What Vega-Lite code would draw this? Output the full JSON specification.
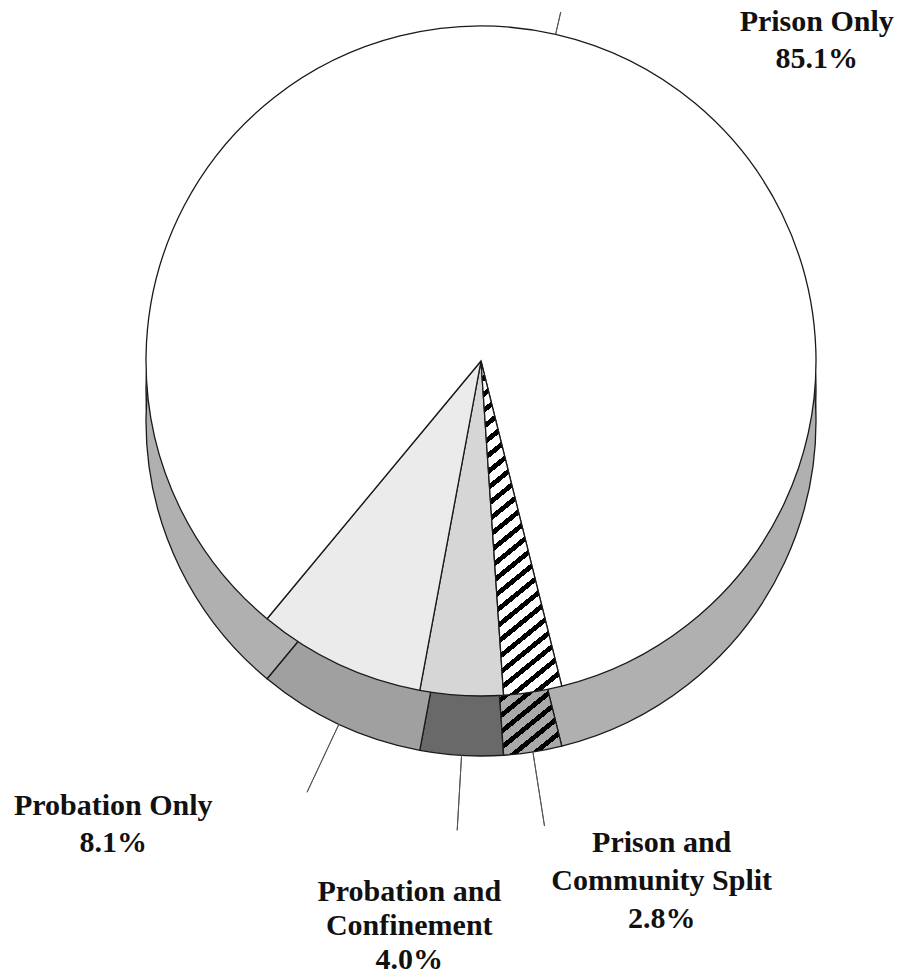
{
  "$schema": "https://vega.github.io/schema/vega-lite/v6.json",
  "width": 838,
  "height": 722,
  "padding": {"left": 62, "top": 0, "right": 0, "bottom": 258},
  "autosize": {"type": "none"},
  "background": "white",
  "config": {"view": {"stroke": null}},
  "data": {
    "values": [
      {"category": "Prison and Community Split", "label": "Prison and\nCommunity Split", "value": 2.8, "rank": 1},
      {"category": "Probation and Confinement", "label": "Probation and\nConfinement", "value": 4.0, "rank": 2},
      {"category": "Probation Only", "label": "Probation Only", "value": 8.1, "rank": 3},
      {"category": "Prison Only", "label": "Prison Only", "value": 85.1, "rank": 4}
    ]
  },
  "transform": [
    {"stack": "value", "groupby": [], "sort": [{"field": "rank", "order": "ascending"}], "as": ["v0", "v1"]},
    {"calculate": "(datum.v0 + datum.v1) / 2", "as": "mid"},
    {"calculate": "datum.label + '\\n' + format(datum.value, '.1f') + '%'", "as": "text"}
  ],
  "layer": [
    {
      "mark": {"type": "arc", "radius": 335, "yOffset": 30, "fill": "#ababab", "stroke": "#1a1a1a", "strokeWidth": 1.3},
      "encoding": {
        "theta": {"field": "v0", "type": "quantitative", "stack": null, "scale": {"domain": [0, 100], "range": [2.8981, 9.1813]}},
        "theta2": {"field": "v1"}
      }
    },
    {
      "transform": [{"filter": "datum.category !== 'Prison and Community Split'"}],
      "mark": {"type": "arc", "radius": 335, "yOffset": 60, "stroke": "#1a1a1a", "strokeWidth": 1.3},
      "encoding": {
        "theta": {"field": "v0", "type": "quantitative", "stack": null, "scale": {"domain": [0, 100], "range": [2.8981, 9.1813]}},
        "theta2": {"field": "v1"},
        "fill": {"condition": [
          {"test": "datum.category === 'Probation and Confinement'", "value": "#696969"},
          {"test": "datum.category === 'Probation Only'", "value": "#a0a0a0"}
        ], "value": "#b0b0b0"}
      }
    },
    {
      "transform": [{"filter": "datum.category === 'Prison and Community Split'"}],
      "mark": {"type": "arc", "radius": 335, "yOffset": 60, "stroke": "#1a1a1a", "strokeWidth": 1.3,
        "fill": {"gradient": "linear", "x1": 0, "y1": 0, "x2": 0.22, "y2": 1.12, "stops": [
          {"offset": 0, "color": "#000"}, {"offset": 0.0158, "color": "#000"}, {"offset": 0.0158, "color": "#a9a9a9"}, {"offset": 0.0417, "color": "#a9a9a9"},
          {"offset": 0.0417, "color": "#000"}, {"offset": 0.0575, "color": "#000"}, {"offset": 0.0575, "color": "#a9a9a9"}, {"offset": 0.0833, "color": "#a9a9a9"},
          {"offset": 0.0833, "color": "#000"}, {"offset": 0.0991, "color": "#000"}, {"offset": 0.0991, "color": "#a9a9a9"}, {"offset": 0.125, "color": "#a9a9a9"},
          {"offset": 0.125, "color": "#000"}, {"offset": 0.1408, "color": "#000"}, {"offset": 0.1408, "color": "#a9a9a9"}, {"offset": 0.1667, "color": "#a9a9a9"},
          {"offset": 0.1667, "color": "#000"}, {"offset": 0.1825, "color": "#000"}, {"offset": 0.1825, "color": "#a9a9a9"}, {"offset": 0.2083, "color": "#a9a9a9"},
          {"offset": 0.2083, "color": "#000"}, {"offset": 0.2241, "color": "#000"}, {"offset": 0.2241, "color": "#a9a9a9"}, {"offset": 0.25, "color": "#a9a9a9"},
          {"offset": 0.25, "color": "#000"}, {"offset": 0.2658, "color": "#000"}, {"offset": 0.2658, "color": "#a9a9a9"}, {"offset": 0.2917, "color": "#a9a9a9"},
          {"offset": 0.2917, "color": "#000"}, {"offset": 0.3075, "color": "#000"}, {"offset": 0.3075, "color": "#a9a9a9"}, {"offset": 0.3333, "color": "#a9a9a9"},
          {"offset": 0.3333, "color": "#000"}, {"offset": 0.3491, "color": "#000"}, {"offset": 0.3491, "color": "#a9a9a9"}, {"offset": 0.375, "color": "#a9a9a9"},
          {"offset": 0.375, "color": "#000"}, {"offset": 0.3908, "color": "#000"}, {"offset": 0.3908, "color": "#a9a9a9"}, {"offset": 0.4167, "color": "#a9a9a9"},
          {"offset": 0.4167, "color": "#000"}, {"offset": 0.4325, "color": "#000"}, {"offset": 0.4325, "color": "#a9a9a9"}, {"offset": 0.4583, "color": "#a9a9a9"},
          {"offset": 0.4583, "color": "#000"}, {"offset": 0.4741, "color": "#000"}, {"offset": 0.4741, "color": "#a9a9a9"}, {"offset": 0.5, "color": "#a9a9a9"},
          {"offset": 0.5, "color": "#000"}, {"offset": 0.5158, "color": "#000"}, {"offset": 0.5158, "color": "#a9a9a9"}, {"offset": 0.5417, "color": "#a9a9a9"},
          {"offset": 0.5417, "color": "#000"}, {"offset": 0.5575, "color": "#000"}, {"offset": 0.5575, "color": "#a9a9a9"}, {"offset": 0.5833, "color": "#a9a9a9"},
          {"offset": 0.5833, "color": "#000"}, {"offset": 0.5991, "color": "#000"}, {"offset": 0.5991, "color": "#a9a9a9"}, {"offset": 0.625, "color": "#a9a9a9"},
          {"offset": 0.625, "color": "#000"}, {"offset": 0.6408, "color": "#000"}, {"offset": 0.6408, "color": "#a9a9a9"}, {"offset": 0.6667, "color": "#a9a9a9"},
          {"offset": 0.6667, "color": "#000"}, {"offset": 0.6825, "color": "#000"}, {"offset": 0.6825, "color": "#a9a9a9"}, {"offset": 0.7083, "color": "#a9a9a9"},
          {"offset": 0.7083, "color": "#000"}, {"offset": 0.7241, "color": "#000"}, {"offset": 0.7241, "color": "#a9a9a9"}, {"offset": 0.75, "color": "#a9a9a9"},
          {"offset": 0.75, "color": "#000"}, {"offset": 0.7658, "color": "#000"}, {"offset": 0.7658, "color": "#a9a9a9"}, {"offset": 0.7917, "color": "#a9a9a9"},
          {"offset": 0.7917, "color": "#000"}, {"offset": 0.8075, "color": "#000"}, {"offset": 0.8075, "color": "#a9a9a9"}, {"offset": 0.8333, "color": "#a9a9a9"},
          {"offset": 0.8333, "color": "#000"}, {"offset": 0.8491, "color": "#000"}, {"offset": 0.8491, "color": "#a9a9a9"}, {"offset": 0.875, "color": "#a9a9a9"},
          {"offset": 0.875, "color": "#000"}, {"offset": 0.8908, "color": "#000"}, {"offset": 0.8908, "color": "#a9a9a9"}, {"offset": 0.9167, "color": "#a9a9a9"},
          {"offset": 0.9167, "color": "#000"}, {"offset": 0.9325, "color": "#000"}, {"offset": 0.9325, "color": "#a9a9a9"}, {"offset": 0.9583, "color": "#a9a9a9"},
          {"offset": 0.9583, "color": "#000"}, {"offset": 0.9741, "color": "#000"}, {"offset": 0.9741, "color": "#a9a9a9"}, {"offset": 1, "color": "#a9a9a9"}
        ]}},
      "encoding": {
        "theta": {"field": "v0", "type": "quantitative", "stack": null, "scale": {"domain": [0, 100], "range": [2.8981, 9.1813]}},
        "theta2": {"field": "v1"}
      }
    },
    {
      "transform": [{"filter": "datum.category !== 'Prison and Community Split'"}],
      "mark": {"type": "arc", "radius": 335, "stroke": "#1a1a1a", "strokeWidth": 1.3},
      "encoding": {
        "theta": {"field": "v0", "type": "quantitative", "stack": null, "scale": {"domain": [0, 100], "range": [2.8981, 9.1813]}},
        "theta2": {"field": "v1"},
        "fill": {"condition": [
          {"test": "datum.category === 'Probation and Confinement'", "value": "#d6d6d6"},
          {"test": "datum.category === 'Probation Only'", "value": "#ebebeb"}
        ], "value": "#ffffff"}
      }
    },
    {
      "transform": [{"filter": "datum.category === 'Prison and Community Split'"}],
      "mark": {"type": "arc", "radius": 335, "stroke": "#1a1a1a", "strokeWidth": 1.3,
        "fill": {"gradient": "linear", "x1": 0, "y1": 0, "x2": 0.22, "y2": 1.12, "stops": [
          {"offset": 0, "color": "#000"}, {"offset": 0.0158, "color": "#000"}, {"offset": 0.0158, "color": "#fff"}, {"offset": 0.0417, "color": "#fff"},
          {"offset": 0.0417, "color": "#000"}, {"offset": 0.0575, "color": "#000"}, {"offset": 0.0575, "color": "#fff"}, {"offset": 0.0833, "color": "#fff"},
          {"offset": 0.0833, "color": "#000"}, {"offset": 0.0991, "color": "#000"}, {"offset": 0.0991, "color": "#fff"}, {"offset": 0.125, "color": "#fff"},
          {"offset": 0.125, "color": "#000"}, {"offset": 0.1408, "color": "#000"}, {"offset": 0.1408, "color": "#fff"}, {"offset": 0.1667, "color": "#fff"},
          {"offset": 0.1667, "color": "#000"}, {"offset": 0.1825, "color": "#000"}, {"offset": 0.1825, "color": "#fff"}, {"offset": 0.2083, "color": "#fff"},
          {"offset": 0.2083, "color": "#000"}, {"offset": 0.2241, "color": "#000"}, {"offset": 0.2241, "color": "#fff"}, {"offset": 0.25, "color": "#fff"},
          {"offset": 0.25, "color": "#000"}, {"offset": 0.2658, "color": "#000"}, {"offset": 0.2658, "color": "#fff"}, {"offset": 0.2917, "color": "#fff"},
          {"offset": 0.2917, "color": "#000"}, {"offset": 0.3075, "color": "#000"}, {"offset": 0.3075, "color": "#fff"}, {"offset": 0.3333, "color": "#fff"},
          {"offset": 0.3333, "color": "#000"}, {"offset": 0.3491, "color": "#000"}, {"offset": 0.3491, "color": "#fff"}, {"offset": 0.375, "color": "#fff"},
          {"offset": 0.375, "color": "#000"}, {"offset": 0.3908, "color": "#000"}, {"offset": 0.3908, "color": "#fff"}, {"offset": 0.4167, "color": "#fff"},
          {"offset": 0.4167, "color": "#000"}, {"offset": 0.4325, "color": "#000"}, {"offset": 0.4325, "color": "#fff"}, {"offset": 0.4583, "color": "#fff"},
          {"offset": 0.4583, "color": "#000"}, {"offset": 0.4741, "color": "#000"}, {"offset": 0.4741, "color": "#fff"}, {"offset": 0.5, "color": "#fff"},
          {"offset": 0.5, "color": "#000"}, {"offset": 0.5158, "color": "#000"}, {"offset": 0.5158, "color": "#fff"}, {"offset": 0.5417, "color": "#fff"},
          {"offset": 0.5417, "color": "#000"}, {"offset": 0.5575, "color": "#000"}, {"offset": 0.5575, "color": "#fff"}, {"offset": 0.5833, "color": "#fff"},
          {"offset": 0.5833, "color": "#000"}, {"offset": 0.5991, "color": "#000"}, {"offset": 0.5991, "color": "#fff"}, {"offset": 0.625, "color": "#fff"},
          {"offset": 0.625, "color": "#000"}, {"offset": 0.6408, "color": "#000"}, {"offset": 0.6408, "color": "#fff"}, {"offset": 0.6667, "color": "#fff"},
          {"offset": 0.6667, "color": "#000"}, {"offset": 0.6825, "color": "#000"}, {"offset": 0.6825, "color": "#fff"}, {"offset": 0.7083, "color": "#fff"},
          {"offset": 0.7083, "color": "#000"}, {"offset": 0.7241, "color": "#000"}, {"offset": 0.7241, "color": "#fff"}, {"offset": 0.75, "color": "#fff"},
          {"offset": 0.75, "color": "#000"}, {"offset": 0.7658, "color": "#000"}, {"offset": 0.7658, "color": "#fff"}, {"offset": 0.7917, "color": "#fff"},
          {"offset": 0.7917, "color": "#000"}, {"offset": 0.8075, "color": "#000"}, {"offset": 0.8075, "color": "#fff"}, {"offset": 0.8333, "color": "#fff"},
          {"offset": 0.8333, "color": "#000"}, {"offset": 0.8491, "color": "#000"}, {"offset": 0.8491, "color": "#fff"}, {"offset": 0.875, "color": "#fff"},
          {"offset": 0.875, "color": "#000"}, {"offset": 0.8908, "color": "#000"}, {"offset": 0.8908, "color": "#fff"}, {"offset": 0.9167, "color": "#fff"},
          {"offset": 0.9167, "color": "#000"}, {"offset": 0.9325, "color": "#000"}, {"offset": 0.9325, "color": "#fff"}, {"offset": 0.9583, "color": "#fff"},
          {"offset": 0.9583, "color": "#000"}, {"offset": 0.9741, "color": "#000"}, {"offset": 0.9741, "color": "#fff"}, {"offset": 1, "color": "#fff"}
        ]}},
      "encoding": {
        "theta": {"field": "v0", "type": "quantitative", "stack": null, "scale": {"domain": [0, 100], "range": [2.8981, 9.1813]}},
        "theta2": {"field": "v1"}
      }
    },
    {
      "transform": [{"filter": "datum.category !== 'Prison Only'"}],
      "mark": {"type": "arc", "radius": 410, "radius2": 335, "yOffset": 60, "fill": "transparent", "stroke": "#555555", "strokeWidth": 1},
      "encoding": {
        "theta": {"field": "mid", "type": "quantitative", "stack": null, "scale": {"domain": [0, 100], "range": [2.8981, 9.1813]}},
        "theta2": {"field": "mid"}
      }
    },
    {
      "transform": [{"filter": "datum.category === 'Prison Only'"}],
      "mark": {"type": "arc", "radius": 358, "radius2": 335, "fill": "transparent", "stroke": "#555555", "strokeWidth": 1},
      "encoding": {
        "theta": {"field": "mid", "type": "quantitative", "stack": null, "scale": {"domain": [0, 100], "range": [2.8981, 9.1813]}},
        "theta2": {"field": "mid"}
      }
    },
    {
      "transform": [{"filter": "datum.category === 'Prison Only'"}],
      "mark": {"type": "text", "radius": 340, "dx": 260, "dy": 1.5, "align": "center", "baseline": "alphabetic", "font": "Liberation Serif", "fontWeight": "bold", "fontSize": 30, "lineHeight": 37, "lineBreak": "\n", "color": "#111111"},
      "encoding": {
        "theta": {"field": "mid", "type": "quantitative", "stack": null, "scale": {"domain": [0, 100], "range": [2.8981, 9.1813]}},
        "text": {"field": "text"}
      }
    },
    {
      "transform": [{"filter": "datum.category === 'Probation Only'"}],
      "mark": {"type": "text", "radius": 440, "dx": -181, "dy": 56, "align": "center", "baseline": "alphabetic", "font": "Liberation Serif", "fontWeight": "bold", "fontSize": 30, "lineHeight": 37, "lineBreak": "\n", "color": "#111111"},
      "encoding": {
        "theta": {"field": "mid", "type": "quantitative", "stack": null, "scale": {"domain": [0, 100], "range": [2.8981, 9.1813]}},
        "text": {"field": "text"}
      }
    },
    {
      "transform": [{"filter": "datum.category === 'Probation and Confinement'"}],
      "mark": {"type": "text", "radius": 547, "dx": -40, "dy": -6, "align": "center", "baseline": "alphabetic", "font": "Liberation Serif", "fontWeight": "bold", "fontSize": 30, "lineHeight": 34, "lineBreak": "\n", "color": "#111111"},
      "encoding": {
        "theta": {"field": "mid", "type": "quantitative", "stack": null, "scale": {"domain": [0, 100], "range": [2.8981, 9.1813]}},
        "text": {"field": "text"}
      }
    },
    {
      "transform": [{"filter": "datum.category === 'Prison and Community Split'"}],
      "mark": {"type": "text", "radius": 495, "dx": 104, "dy": 2, "align": "center", "baseline": "alphabetic", "font": "Liberation Serif", "fontWeight": "bold", "fontSize": 30, "lineHeight": 38, "lineBreak": "\n", "color": "#111111"},
      "encoding": {
        "theta": {"field": "mid", "type": "quantitative", "stack": null, "scale": {"domain": [0, 100], "range": [2.8981, 9.1813]}},
        "text": {"field": "text"}
      }
    }
  ]
}
